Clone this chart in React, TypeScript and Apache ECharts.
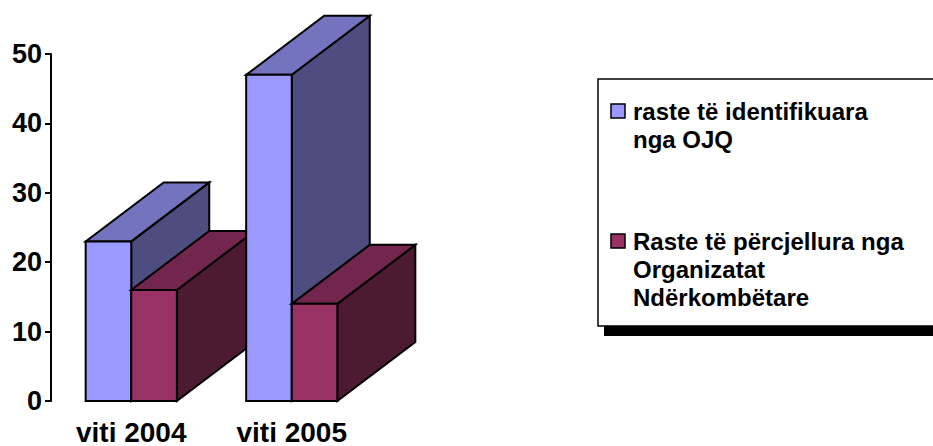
import React, { useEffect, useRef } from "react";
import * as echarts from "echarts";

const categories = ["viti 2004", "viti 2005"];
const seriesNames = [
  "raste të identifikuara nga OJQ",
  "Raste të përcjellura nga Organizatat Ndërkombëtare",
];
const legendLines = [
  ["raste të identifikuara", "nga OJQ"],
  ["Raste të përcjellura nga", "Organizatat", "Ndërkombëtare"],
];
const identifiedByNGO = [23, 47];
const referredByIntl = [16, 14];
const yTicks = { min: 0, max: 50, interval: 10 };

const FONT = '"Liberation Sans", Arial, Helvetica, sans-serif';
const DX = 78;
const DY = -59;
const palettes = [
  { front: "#9999FF", top: "#7373BF", side: "#4D4D80" },
  { front: "#993366", top: "#73264D", side: "#4D1A33" },
];

function makeRender(s: number) {
  return (params: any, api: any) => {
    const ci = api.value(0);
    const v = api.value(1);
    const base = api.coord([ci, 0]);
    const top = api.coord([ci, v]);
    const band = api.size([1, 0])[0];
    const bw = band * 0.284;
    const x0 = base[0] - bw + s * bw;
    const x1 = x0 + bw;
    const yT = top[1];
    const yB = base[1];
    const c = palettes[s];
    const z2 = ci * 10 + s * 3;
    const edge = { stroke: "#000", lineWidth: 2, lineJoin: "miter" };
    return {
      type: "group",
      children: [
        {
          type: "polygon",
          z2,
          shape: {
            points: [
              [x1, yT],
              [x1 + DX, yT + DY],
              [x1 + DX, yB + DY],
              [x1, yB],
            ],
          },
          style: { fill: c.side, ...edge },
        },
        {
          type: "polygon",
          z2: z2 + 1,
          shape: {
            points: [
              [x0, yT],
              [x1, yT],
              [x1 + DX, yT + DY],
              [x0 + DX, yT + DY],
            ],
          },
          style: { fill: c.top, ...edge },
        },
        {
          type: "rect",
          z2: z2 + 2,
          shape: { x: x0, y: yT, width: bw, height: yB - yT },
          style: { fill: c.front, ...edge },
        },
      ],
    };
  };
}

export default function App() {
  const ref = useRef<HTMLDivElement>(null);
  useEffect(() => {
    if (!ref.current) return;
    const chart = echarts.init(ref.current, null, { renderer: "svg" });
    const seriesData = [identifiedByNGO, referredByIntl];
    const firstLineY = [111, 241];
    const lineStep = 28;
    chart.setOption({
      animation: false,
      backgroundColor: "#fff",
      grid: { left: 51, top: 54, width: 321, height: 347, containLabel: false },
      xAxis: {
        type: "category",
        data: categories,
        axisLine: { show: false },
        axisTick: { show: false },
        axisLabel: {
          color: "#000",
          fontFamily: FONT,
          fontWeight: "bold",
          fontSize: 28,
          margin: 17,
        },
      },
      yAxis: {
        type: "value",
        min: yTicks.min,
        max: yTicks.max,
        interval: yTicks.interval,
        splitLine: { show: false },
        axisLine: { show: true, lineStyle: { color: "#000", width: 2 } },
        axisTick: { show: true, length: 6, lineStyle: { color: "#000", width: 2 } },
        axisLabel: {
          color: "#000",
          fontFamily: FONT,
          fontWeight: "bold",
          fontSize: 27,
          margin: 9,
        },
      },
      series: seriesData.map((arr, s) => ({
        type: "custom",
        name: seriesNames[s],
        renderItem: makeRender(s),
        encode: { x: 0, y: 1 },
        data: arr.map((v, i) => [i, v]),
        clip: false,
      })),
      graphic: [
        {
          type: "rect",
          shape: { x: 604, y: 85, width: 400, height: 251 },
          style: { fill: "#000" },
          z: 0,
        },
        {
          type: "rect",
          shape: { x: 598, y: 79, width: 400, height: 247 },
          style: { fill: "#fff", stroke: "#000", lineWidth: 1.5 },
          z: 1,
        },
        ...legendLines.flatMap((lines, i) => {
          const y0 = firstLineY[i];
          return [
            {
              type: "rect",
              shape: { x: 611, y: y0 - 7, width: 14, height: 14 },
              style: { fill: palettes[i].front, stroke: "#000", lineWidth: 1.5 },
              z: 2,
            },
            ...lines.map((line, k) => ({
              type: "text",
              x: 633,
              y: y0 + k * lineStep,
              z: 2,
              style: {
                text: line,
                fill: "#000",
                font: `bold 24px ${FONT}`,
                lineHeight: 24,
                verticalAlign: "middle",
                align: "left",
              },
            })),
          ];
        }),
      ],
    });
    return () => chart.dispose();
  }, []);
  return (
    <div
      ref={ref}
      style={{ position: "fixed", left: 0, top: 0, width: 933, height: 446 }}
    />
  );
}
